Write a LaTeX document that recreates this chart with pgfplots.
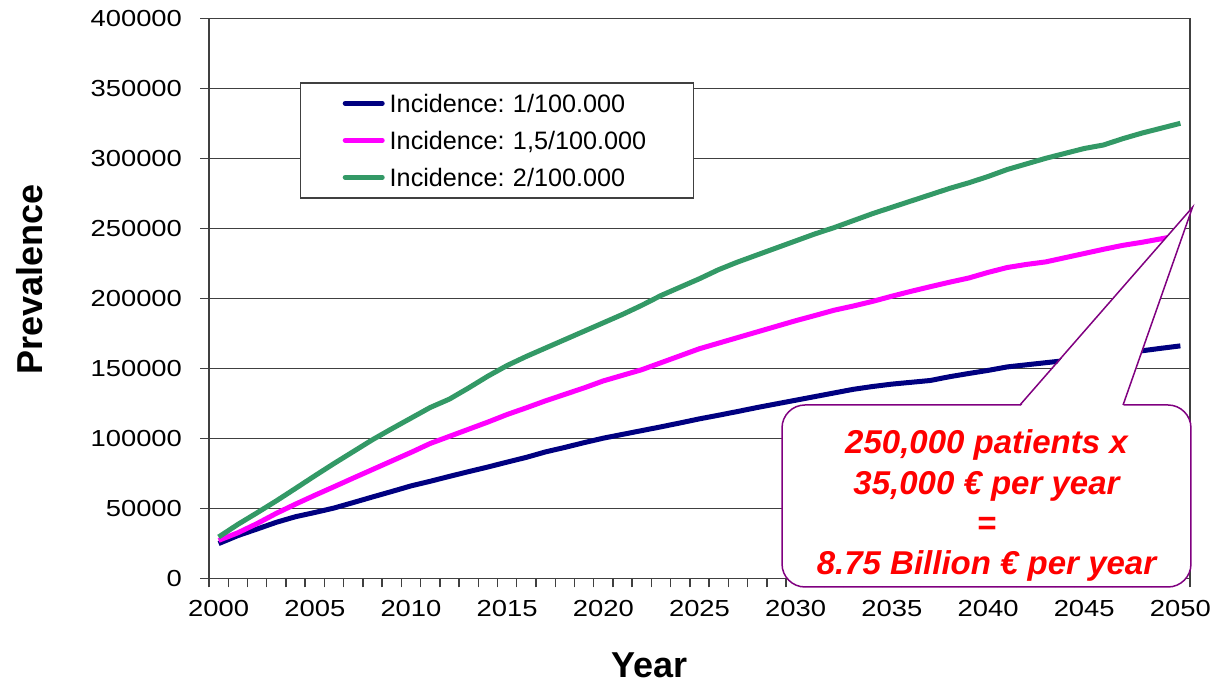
\documentclass[border=0pt]{standalone}
\usepackage{pgfplots}
\usepackage{pgfplotstable}
\pgfplotsset{compat=1.18}
\usepackage{fontspec}
\setmainfont{Liberation Sans}
\newfontfamily\tickfont[FakeStretch=1.18]{Liberation Sans}
\definecolor{cblue}{HTML}{000080}
\definecolor{cmag}{HTML}{FF00FF}
\definecolor{cgreen}{HTML}{339966}
\definecolor{cpurple}{HTML}{800080}
\definecolor{gridgray}{HTML}{404040}

\pgfplotstableread{
year b m g
2000 24800 27100 29500
2001 30500 32500 38500
2002 35200 39100 46800
2003 40000 46400 55300
2004 44000 53000 64200
2005 47000 59300 73200
2006 50200 65400 82000
2007 54100 71600 90500
2008 58100 77700 99000
2009 62000 83800 106800
2010 66000 89900 114400
2011 69300 96300 122000
2012 72800 101400 128000
2013 76200 106500 136000
2014 79500 111600 144400
2015 83000 117000 152000
2016 86400 121800 158500
2017 90300 126800 164500
2018 93500 131400 170500
2019 96900 136000 176500
2020 100100 141000 182500
2021 102800 145000 188500
2022 105500 149000 195000
2023 108200 154000 202000
2024 111000 159000 208000
2025 113900 164000 214000
2026 116500 168000 220500
2027 119200 172000 226000
2028 122000 176000 231000
2029 124600 180000 236000
2030 127200 184000 241000
2031 129800 187700 246000
2032 132400 191500 250500
2033 135000 194500 255500
2034 137000 197800 260500
2035 138700 201500 265000
2036 140000 205000 269500
2037 141300 208300 274000
2038 144000 211500 278500
2039 146300 214500 282500
2040 148500 218500 287000
2041 151000 222000 292000
2042 152500 224200 296000
2043 154000 226000 300000
2044 155500 229000 303500
2045 157500 232000 307000
2046 159500 235000 309500
2047 161000 237800 314000
2048 162500 240000 318000
2049 164300 242500 321500
2050 166000 245000 325000
}\prevdata

\begin{document}
\frenchspacing
\begin{tikzpicture}
\path[use as bounding box] (-104.5pt,-53.35pt) rectangle (505pt,289.15pt);
\begin{axis}[
  at={(0,0)}, anchor=south west,
  scale only axis, width=490.5pt, height=280pt,
  xmin=1999.5, xmax=2050.5, ymin=0, ymax=400000,
  xtick={2000,2005,...,2050},
  minor xtick={1999.5,2000.5,...,2050.5},
  ytick={0,50000,...,400000},
  scaled y ticks=false,
  /pgf/number format/1000 sep={},
  /pgf/number format/fixed,
  /pgf/number format/assume math mode=true,
  tick align=outside, tick pos=left,
  major tick length=4.5pt, minor tick length=4.5pt,
  every major x tick/.append style={draw=none},
  ymajorgrids,
  grid style={gridgray, line width=0.7pt},
  axis line style={gridgray, line width=0.7pt},
  tick style={gridgray, line width=0.7pt},
  ticklabel style={font=\tickfont\fontsize{11.6}{13}\selectfont},
  yticklabel style={xshift=-5.5pt},
  xticklabel style={yshift=-3.2pt},
  xlabel={Year}, ylabel={Prevalence},
  label style={font=\bfseries\fontsize{18}{21}\selectfont},
  xlabel style={at={(axis description cs:0.4495,0)}, anchor=base, yshift=-49.35pt},
  ylabel style={at={(axis description cs:-0.1825,0.533)}, anchor=center},
  legend cell align=left,
  legend style={at={(rel axis cs:0.0928,0.886)}, anchor=north west,
    draw=gridgray, line width=0.7pt, fill=white,
    inner xsep=21pt, inner ysep=3.75pt, row sep=5.5pt, column sep=2.5pt,
    font=\fontsize{12.6}{14}\selectfont,
    nodes={inner sep=0pt, text height=11pt, text depth=2pt, text width=131pt, align=left}},
  legend image code/.code={\draw[#1, line width=2.5pt, line cap=round] (0pt,0pt) -- (18.5pt,0pt);},
]
\addplot[cblue, line width=2.5pt, line join=round] table[x=year, y=b] {\prevdata};
\addlegendentry{Incidence: 1/100.000}
\addplot[cmag, line width=2.5pt, line join=round] table[x=year, y=m] {\prevdata};
\addlegendentry{Incidence: 1,5/100.000}
\addplot[cgreen, line width=2.5pt, line join=round] table[x=year, y=g] {\prevdata};
\addlegendentry{Incidence: 2/100.000}
\coordinate (cbl) at (axis cs:2029.29,-6200);
\coordinate (ctr) at (axis cs:2050.55,123800);
\coordinate (pb1) at (axis cs:2041.66,123800);
\coordinate (pb2) at (axis cs:2047.02,123800);
\coordinate (tip) at (axis cs:2050.63,265000);
\coordinate (ctext) at (axis cs:2039.92,51860);
\end{axis}
\draw[cpurple, line width=0.75pt, fill=white, rounded corners=11.5pt] (cbl) rectangle (ctr);
\fill[white] ([yshift=-1pt]pb1) -- (tip) -- ([yshift=-1pt]pb2) -- cycle;
\draw[cpurple, line width=0.75pt, line join=miter] (pb1) -- (tip) -- (pb2);
\node[text=red, font=\bfseries\itshape\fontsize{16.5}{20.2}\selectfont, align=center] at (ctext)
  {250,000 patients x\\35,000 € per year\\=\\8.75 Billion € per year};
\end{tikzpicture}
\end{document}
